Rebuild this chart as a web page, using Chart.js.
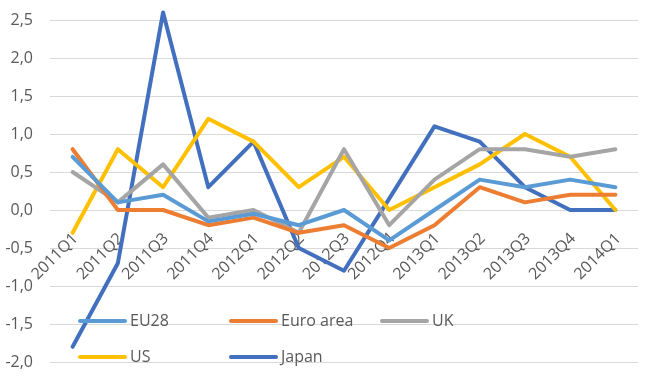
<!DOCTYPE html>
<html>
<head>
<meta charset="utf-8">
<script src="https://cdn.jsdelivr.net/npm/chart.js@4/dist/chart.umd.min.js"></script>
<style>
  html, body { margin: 0; padding: 0; background: #ffffff; }
  #wrap { width: 645px; height: 380px; position: relative; }
</style>
</head>
<body>
<div id="wrap"><canvas id="c" width="645" height="380"></canvas></div>
<script>
const categories = ['2011Q1','2011Q2','2011Q3','2011Q4','2012Q1','2012Q2','2012Q3','2012Q4','2013Q1','2013Q2','2013Q3','2013Q4','2014Q1'];
const eu28     = [0.7, 0.1, 0.2, -0.15, -0.05, -0.2, 0.0, -0.4, 0.0, 0.4, 0.3, 0.4, 0.3];
const euroArea = [0.8, 0.0, 0.0, -0.2, -0.1, -0.3, -0.2, -0.5, -0.2, 0.3, 0.1, 0.2, 0.2];
const uk       = [0.5, 0.1, 0.6, -0.1, 0.0, -0.3, 0.8, -0.2, 0.4, 0.8, 0.8, 0.7, 0.8];
const us       = [-0.3, 0.8, 0.3, 1.2, 0.9, 0.3, 0.7, 0.0, 0.3, 0.6, 1.0, 0.7, 0.0];
const japan    = [-1.8, -0.7, 2.6, 0.3, 0.9, -0.5, -0.8, 0.15, 1.1, 0.9, 0.3, 0.0, 0.0];
const seriesNames = ['EU28', 'Euro area', 'UK', 'US', 'Japan'];
const yTicks = [-2.0, -1.5, -1.0, -0.5, 0.0, 0.5, 1.0, 1.5, 2.0, 2.5];

const colors = ['#5B9BD5', '#ED7D31', '#A5A5A5', '#FFC000', '#4270BF'];
const FONT = '"Open Sans", "Liberation Sans", sans-serif';
const TEXT = '#595959';

function ds(label, data, color) {
  return {
    label, data,
    borderColor: color, backgroundColor: color,
    borderWidth: 4, pointRadius: 0, pointHoverRadius: 0,
    tension: 0, borderJoinStyle: 'round', borderCapStyle: 'round', fill: false,
    clip: false
  };
}

const xLabelPlugin = {
  id: 'xLabels',
  beforeDatasetsDraw(chart) {
    const ctx = chart.ctx;
    const xs = chart.scales.x, ys = chart.scales.y;
    const y0 = ys.getPixelForValue(0);
    ctx.save();
    ctx.font = '16px ' + FONT;
    ctx.fillStyle = TEXT;
    ctx.textAlign = 'right';
    ctx.textBaseline = 'middle';
    categories.forEach((c, i) => {
      const x = xs.getPixelForValue(i);
      ctx.save();
      ctx.translate(x + 3, y0 + 26);
      ctx.rotate(-Math.PI / 4);
      ctx.fillText(c, 0, 0);
      ctx.restore();
    });
    ctx.restore();
  }
};

const legendPlugin = {
  id: 'innerLegend',
  afterDatasetsDraw(chart) {
    const ctx = chart.ctx;
    const ca = chart.chartArea;
    const startX = ca.left + 30;
    const colW = 151;
    const rows = [ca.bottom - 41, ca.bottom - 5];
    ctx.save();
    ctx.font = '16px ' + FONT;
    ctx.textBaseline = 'middle';
    ctx.textAlign = 'left';
    chart.data.datasets.forEach((d, i) => {
      const col = i % 3, row = Math.floor(i / 3);
      const x = startX + col * colW;
      const y = rows[row];
      ctx.strokeStyle = d.borderColor;
      ctx.lineWidth = 4;
      ctx.lineCap = 'round';
      ctx.beginPath();
      ctx.moveTo(x, y);
      ctx.lineTo(x + 45, y);
      ctx.stroke();
      ctx.fillStyle = TEXT;
      ctx.fillText(d.label, x + 50, y + 0.5);
    });
    ctx.restore();
  }
};

new Chart(document.getElementById('c'), {
  type: 'line',
  data: {
    labels: categories,
    datasets: [
      ds(seriesNames[0], eu28, colors[0]),
      ds(seriesNames[1], euroArea, colors[1]),
      ds(seriesNames[2], uk, colors[2]),
      ds(seriesNames[3], us, colors[3]),
      ds(seriesNames[4], japan, colors[4])
    ]
  },
  options: {
    responsive: false,
    animation: false,
    devicePixelRatio: 1,
    layout: { padding: { left: 0, right: 7, top: 20, bottom: 18 } },
    plugins: { legend: { display: false }, tooltip: { enabled: false } },
    scales: {
      x: { type: 'category', display: false, offset: true },
      y: {
        min: -2.0, max: 2.5,
        afterBuildTicks(scale) { scale.ticks = yTicks.map(v => ({ value: v })); },
        afterFit(scale) { scale.width = 50; scale.paddingTop = 0; scale.paddingBottom = 0; },
        border: { display: false },
        grid: { color: '#D9D9D9', lineWidth: 1, drawTicks: false },
        ticks: {
          padding: 17,
          color: TEXT,
          font: { family: FONT, size: 16 },
          callback: v => v.toFixed(1).replace('.', ',')
        }
      }
    }
  },
  plugins: [xLabelPlugin, legendPlugin]
});
</script>
</body>
</html>
